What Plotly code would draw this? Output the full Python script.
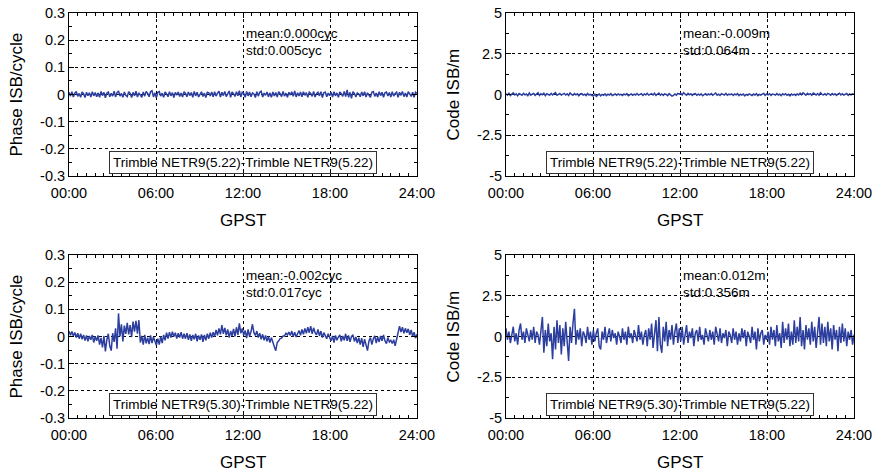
import plotly.graph_objects as go

# ---------------- data ----------------
hours_span = 24.0

phase_522 = [
    0.008,-0.006,0.010,-0.009,0.005,0.011,-0.007,0.004,-0.010,0.009,0.003,-0.011,0.008,-0.004,0.006,-0.009,0.010,-0.005,0.007,-0.008,
    0.006,-0.010,0.011,-0.004,0.008,-0.012,0.005,0.009,-0.008,0.004,-0.006,0.012,-0.009,0.007,0.013,-0.006,0.004,-0.010,0.009,-0.003,
    -0.008,0.010,0.004,-0.011,0.008,-0.005,0.012,-0.009,0.006,-0.003,-0.010,0.009,-0.006,0.011,0.004,-0.008,0.010,0.014,-0.009,0.006,
    -0.012,0.008,0.011,-0.006,0.005,-0.010,0.009,0.002,-0.008,0.010,-0.005,0.007,-0.011,0.008,-0.002,0.009,-0.007,0.005,-0.009,0.010,
    0.004,-0.008,0.009,-0.004,0.007,-0.010,0.011,-0.005,0.008,-0.009,0.003,0.010,-0.007,0.005,-0.011,0.008,0.006,-0.005,0.009,-0.008,
    0.010,-0.006,0.005,0.012,-0.009,0.008,-0.004,0.011,-0.008,0.006,0.013,-0.010,0.009,0.003,-0.007,0.010,-0.005,0.014,-0.009,0.008,
    0.004,-0.010,0.011,-0.005,0.009,-0.008,0.006,0.002,-0.011,0.010,-0.006,0.008,0.012,-0.009,0.005,-0.003,0.009,-0.008,0.006,-0.010,
    0.009,-0.005,0.007,-0.009,0.010,0.003,-0.008,0.011,-0.006,0.005,-0.010,0.008,-0.002,0.010,-0.007,0.013,-0.009,0.006,-0.005,0.009,
    -0.008,0.010,-0.003,0.007,-0.010,0.009,0.004,-0.007,0.011,-0.009,0.003,0.008,-0.005,0.010,-0.011,0.006,0.009,-0.008,0.005,-0.004,
    0.008,-0.009,0.010,-0.005,0.006,-0.010,0.009,0.003,-0.007,0.011,-0.008,0.017,-0.010,0.008,-0.014,0.010,0.004,-0.009,0.006,0.002,
    -0.008,0.009,-0.005,0.010,-0.009,0.006,-0.002,-0.010,0.008,0.011,-0.007,0.005,-0.009,0.010,-0.004,0.008,-0.010,0.006,0.009,-0.005,
    0.007,-0.009,0.010,-0.006,0.004,0.009,-0.010,0.008,-0.003,0.011,-0.008,0.005,-0.009,0.010,0.002,-0.007,0.008,-0.010,0.009,0.004,
]

code_522 = [
    0.05,-0.04,0.08,-0.06,0.02,0.10,-0.03,0.04,-0.08,0.06,0.01,-0.05,0.07,-0.02,0.03,-0.07,0.09,-0.04,0.02,0.06,
    -0.05,0.03,0.11,-0.06,0.04,-0.02,0.08,-0.07,0.05,0.00,-0.04,0.07,-0.03,0.05,0.12,-0.05,0.03,0.06,-0.04,0.02,
    0.07,-0.03,0.04,-0.06,0.09,0.01,-0.05,0.06,-0.02,0.04,-0.08,0.03,0.05,-0.04,0.02,-0.07,0.06,-0.03,0.01,-0.06,
    -0.09,0.02,-0.12,-0.04,0.03,-0.08,0.01,-0.05,0.04,-0.07,0.02,-0.03,0.05,-0.06,0.00,0.03,-0.05,0.04,-0.02,0.01,
    -0.06,0.03,-0.02,0.05,-0.07,0.01,0.04,-0.05,0.02,-0.03,0.06,-0.04,0.01,0.05,-0.06,0.03,-0.02,0.07,-0.04,0.02,
    0.05,-0.03,0.08,-0.05,0.02,0.09,-0.04,0.03,-0.06,0.04,0.00,-0.07,0.05,-0.02,-0.10,-0.05,0.03,-0.04,0.06,0.02,
    0.08,-0.03,0.11,0.02,-0.04,0.07,-0.02,0.05,-0.06,0.03,0.06,-0.05,0.02,-0.03,0.04,-0.07,0.01,0.05,-0.04,0.03,
    -0.02,0.06,-0.05,0.03,0.09,-0.04,0.02,-0.06,0.05,0.01,-0.03,0.07,-0.05,0.02,-0.01,0.04,-0.06,0.03,-0.02,0.05,
    -0.07,0.02,-0.04,0.03,-0.08,0.01,-0.05,0.04,-0.02,-0.06,0.03,-0.03,0.05,-0.07,0.01,-0.04,0.02,0.06,-0.05,0.03,
    -0.02,0.05,-0.06,0.03,0.01,-0.04,0.06,-0.03,0.02,-0.07,0.04,-0.02,0.05,-0.05,0.01,-0.08,0.03,-0.04,0.02,-0.06,
    0.04,-0.03,0.08,-0.02,0.10,0.03,-0.04,0.07,-0.01,0.05,-0.05,0.09,0.02,-0.03,0.06,-0.04,0.11,0.01,-0.02,0.05,
    -0.04,0.07,0.02,-0.05,0.06,-0.02,0.04,-0.06,0.03,0.08,-0.03,0.05,-0.04,0.02,0.06,-0.05,0.03,-0.02,0.04,0.01,
]

phase_530 = [
    0.020,0.005,0.018,0.002,0.015,-0.004,0.012,-0.008,0.010,-0.010,0.006,-0.015,0.004,-0.018,0.002,-0.012,0.006,-0.022,0.000,-0.016,
    0.004,-0.030,-0.005,-0.040,0.002,-0.055,-0.012,0.010,-0.035,-0.052,0.012,-0.020,0.030,-0.045,0.085,0.000,0.045,-0.018,0.040,0.010,
    0.050,0.008,0.042,-0.002,0.055,0.018,0.058,0.010,0.060,-0.022,0.002,-0.030,0.006,-0.025,-0.004,-0.028,0.004,-0.024,-0.002,-0.020,
    -0.032,-0.008,-0.030,0.000,-0.024,0.006,-0.014,0.014,-0.008,0.016,-0.004,0.018,0.000,0.014,-0.008,0.012,-0.004,0.016,-0.008,0.010,
    -0.008,0.012,-0.012,0.008,-0.016,0.006,-0.010,0.010,-0.018,0.004,-0.012,0.008,-0.020,0.006,-0.014,0.010,-0.008,0.014,-0.004,0.016,
    0.000,0.024,0.004,0.030,0.008,0.042,0.010,0.032,0.004,0.026,-0.004,0.020,0.002,0.028,0.000,0.034,0.006,0.048,0.012,0.030,
    0.004,0.022,-0.006,0.026,0.000,0.018,0.045,0.014,0.004,0.020,-0.004,0.012,-0.010,0.008,-0.014,0.004,-0.018,0.000,-0.022,-0.004,
    -0.026,-0.038,-0.052,-0.022,-0.016,-0.008,-0.006,0.002,0.002,0.012,0.006,0.016,0.004,0.020,0.000,0.016,-0.002,0.014,0.022,0.004,
    0.026,0.008,0.030,0.012,0.034,0.014,0.038,0.010,0.032,0.014,0.006,0.026,0.002,0.020,-0.004,0.014,0.000,-0.008,0.010,-0.004,
    -0.016,0.002,-0.022,0.004,-0.014,-0.002,0.006,-0.018,0.002,-0.014,0.010,-0.016,0.004,-0.020,0.000,0.006,-0.018,-0.002,-0.024,-0.004,
    -0.030,-0.006,-0.038,-0.010,-0.034,-0.052,-0.016,-0.004,-0.030,-0.008,0.002,-0.024,-0.002,-0.020,0.002,-0.016,0.006,-0.016,-0.026,-0.004,
    -0.020,-0.014,-0.026,-0.012,-0.034,-0.008,0.022,0.038,0.016,0.034,0.012,0.030,0.014,0.028,0.006,0.024,0.000,0.016,-0.006,0.008,
]

code_530 = [
    0.5,-0.2,0.3,-0.4,0.1,0.6,-0.3,0.2,-0.5,0.4,0.8,-0.2,0.3,-0.4,0.5,0.0,-0.3,0.4,-0.2,0.6,
    -0.4,0.3,0.1,-0.5,0.2,1.2,-1.0,0.4,-0.6,0.8,-0.3,0.2,-1.4,0.6,-0.8,1.0,-0.4,0.7,-1.1,0.5,
    -0.6,0.9,-0.3,-1.5,0.6,-0.4,0.8,1.7,-0.5,0.4,-0.2,0.5,-0.6,0.3,0.1,-0.4,0.6,-0.2,0.3,-0.5,
    0.4,-0.3,0.2,0.5,-0.6,-0.8,0.3,-0.2,0.6,-0.4,0.1,0.5,-0.3,0.4,-0.1,0.2,-0.5,0.3,0.0,-0.4,
    0.5,-0.2,0.3,-0.5,0.6,-0.1,0.2,-0.4,0.4,0.0,-0.3,0.7,-0.2,0.3,-0.5,0.1,0.4,-0.6,0.5,-0.2,
    0.8,-0.7,0.4,1.0,-0.9,1.2,-0.5,-1.0,0.6,-0.3,0.9,-0.6,0.4,-0.2,0.7,-0.5,0.3,0.8,-0.4,0.5,
    -0.3,0.6,-0.5,0.2,0.7,-0.4,0.3,-0.1,0.5,-0.6,0.2,0.4,-0.3,0.6,-0.2,0.1,-0.5,0.5,0.0,-0.3,
    0.4,-0.2,0.3,-0.5,0.6,0.0,-0.3,0.5,-0.4,0.2,-0.1,0.4,-0.6,0.3,0.1,-0.4,0.5,-0.2,0.3,-0.5,
    0.2,-0.3,0.5,-0.1,0.4,-0.6,0.3,0.0,-0.4,0.6,-0.2,0.3,-0.8,0.5,-0.3,0.2,0.4,-0.5,0.1,-0.2,
    0.3,-0.5,0.6,-0.2,0.4,-0.6,0.7,-0.3,0.2,-0.7,0.9,-0.4,0.5,-0.2,0.8,-0.6,0.3,-0.5,1.0,-0.4,
    0.6,-0.3,1.2,-0.6,0.4,-0.8,0.7,-0.2,0.5,-0.5,0.9,-0.3,0.6,-0.7,0.3,1.2,-0.5,0.8,-0.4,0.6,
    -0.6,0.9,-0.3,0.5,-0.8,0.7,-0.2,0.4,-0.9,0.6,-0.4,0.8,-0.3,0.5,-0.6,0.3,-0.2,0.4,-0.5,0.1,
]

x_tickvals = [0, 6, 12, 18, 24]
x_ticktext = ["00:00", "06:00", "12:00", "18:00", "24:00"]
phase_tickvals = [-0.3, -0.2, -0.1, 0, 0.1, 0.2, 0.3]
phase_ticktext = ["-0.3", "-0.2", "-0.1", "0", "0.1", "0.2", "0.3"]
code_tickvals = [-5, -2.5, 0, 2.5, 5]
code_ticktext = ["-5", "-2.5", "0", "2.5", "5"]

stats = [
    ("mean:0.000cyc", "std:0.005cyc"),
    ("mean:-0.009m", "std:0.064m"),
    ("mean:-0.002cyc", "std:0.017cyc"),
    ("mean:0.012m", "std:0.356m"),
]
labels = [
    "Trimble NETR9(5.22)-Trimble NETR9(5.22)",
    "Trimble NETR9(5.22)-Trimble NETR9(5.22)",
    "Trimble NETR9(5.30)-Trimble NETR9(5.22)",
    "Trimble NETR9(5.30)-Trimble NETR9(5.22)",
]
ytitles = ["Phase ISB/cycle", "Code ISB/m", "Phase ISB/cycle", "Code ISB/m"]
xtitle = "GPST"

# ---------------- figure ----------------
W, H = 877, 472
FONT = "Liberation Sans, Arial, Helvetica, sans-serif"
LINE = "#2c3e9e"

series = [phase_522, code_522, phase_530, code_530]
# pixel boxes of the four plot areas (left, right, top, bottom)
boxes = [(69, 417, 13, 176), (506, 854, 13, 176), (69, 417, 255, 418), (506, 854, 255, 418)]

fig = go.Figure()
layout = dict(
    width=W, height=H, margin=dict(l=0, r=0, t=0, b=0, autoexpand=False),
    paper_bgcolor="white", plot_bgcolor="white", showlegend=False,
    font=dict(family=FONT, color="black", size=14.5),
)
annotations = []

x_minor = [i * 0.6 for i in range(41)]
phase_minor = [-0.25, -0.15, -0.05, 0.05, 0.15, 0.25]
code_minor = [-3.75, -1.25, 1.25, 3.75]

for i, (vals, (l, r, t, b)) in enumerate(zip(series, boxes)):
    n = len(vals)
    xs = [k * hours_span / (n - 1) for k in range(n)]
    sfx = "" if i == 0 else str(i + 1)
    fig.add_trace(go.Scatter(x=xs, y=vals, mode="lines",
                             line=dict(color=LINE, width=1.5),
                             xaxis="x" + sfx, yaxis="y" + sfx, hoverinfo="skip"))
    is_phase = (i % 2 == 0)
    common = dict(showline=True, linecolor="black", linewidth=1, mirror="ticks",
                  ticks="inside", ticklen=5, tickcolor="black",
                  showgrid=True, gridcolor="black", gridwidth=1, griddash="dot",
                  zeroline=False, tickfont=dict(size=14.5, family=FONT))
    layout["xaxis" + sfx] = dict(
        domain=[l / W, r / W], anchor="y" + sfx, range=[0, 24],
        tickmode="array", tickvals=x_tickvals, ticktext=x_ticktext,
        minor=dict(tickmode="array", tickvals=x_minor, ticks="inside", ticklen=3,
                   tickcolor="black", showgrid=False),
        ticklabelstandoff=4,
        **common)
    layout["yaxis" + sfx] = dict(
        domain=[1 - b / H, 1 - t / H], anchor="x" + sfx,
        range=[-0.3, 0.3] if is_phase else [-5, 5],
        tickmode="array",
        tickvals=phase_tickvals if is_phase else code_tickvals,
        ticktext=phase_ticktext if is_phase else code_ticktext,
        minor=dict(tickmode="array", tickvals=phase_minor if is_phase else code_minor,
                   ticks="inside", ticklen=3, tickcolor="black", showgrid=False),
        **common)
    xr, yr = "x" + sfx + " domain", "y" + sfx + " domain"
    annotations.append(dict(xref=xr, yref=yr, x=0.503, y=0.877, xanchor="left", yanchor="middle",
                            text=stats[i][0], showarrow=False, font=dict(size=13.5)))
    annotations.append(dict(xref=xr, yref=yr, x=0.503, y=0.773, xanchor="left", yanchor="middle",
                            text=stats[i][1], showarrow=False, font=dict(size=13.5)))
    annotations.append(dict(xref=xr, yref=yr, x=0.4986, y=0.08, xanchor="center", yanchor="middle",
                            text=labels[i], showarrow=False, font=dict(size=13.5),
                            bordercolor="#333333", borderwidth=1, borderpad=3))
    # axis titles
    annotations.append(dict(xref="paper", yref="paper", x=((l + r) / 2) / W, y=1 - (b + 44) / H,
                            xanchor="center", yanchor="middle", text=xtitle, showarrow=False,
                            font=dict(size=17)))
    annotations.append(dict(xref="paper", yref="paper", x=(l - 53) / W, y=1 - ((t + b) / 2) / H,
                            xanchor="center", yanchor="middle", text=ytitles[i], showarrow=False,
                            textangle=-90, font=dict(size=17)))

layout["annotations"] = annotations
fig.update_layout(**layout)
fig.write_html("out.html", config={"displayModeBar": False},
               post_script="document.body.style.margin='0px';document.body.style.padding='0px';")
